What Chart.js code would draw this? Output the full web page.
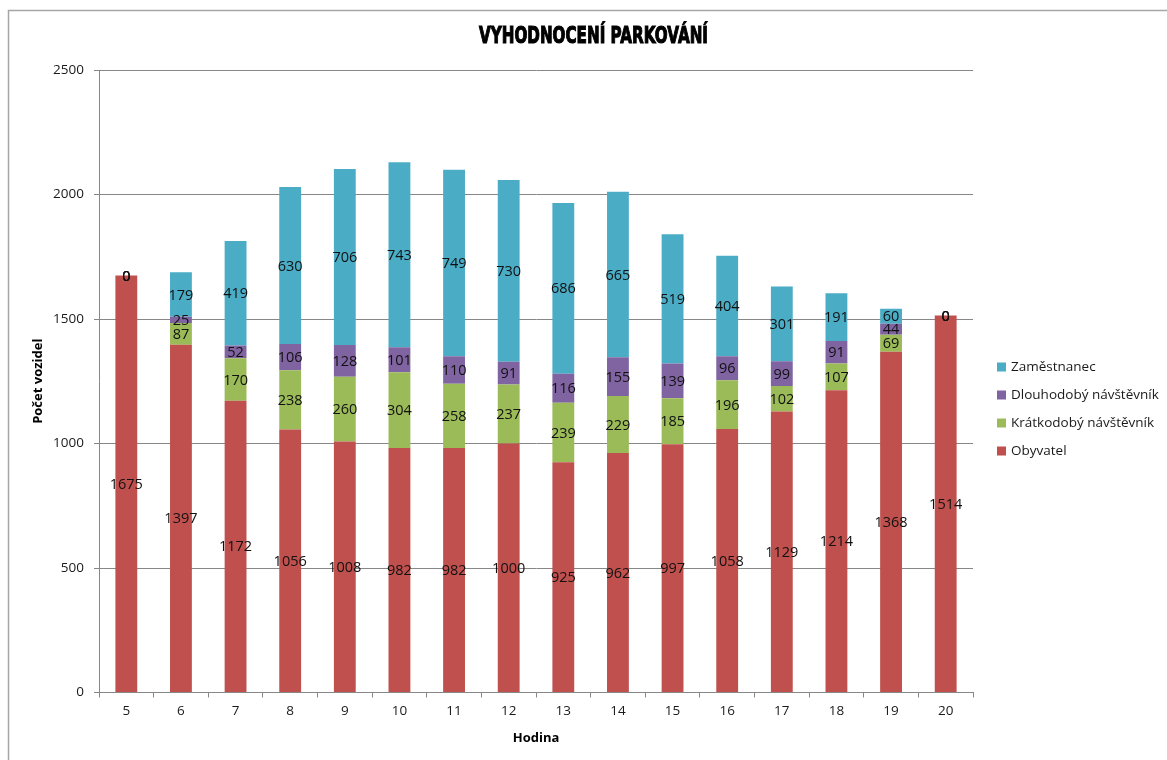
<!DOCTYPE html>
<html>
<head>
<meta charset="utf-8">
<script src="https://cdn.jsdelivr.net/npm/chart.js@4/dist/chart.umd.min.js"></script>
<style>
  html, body { margin: 0; padding: 0; background: #fff; }
  #wrap { position: relative; width: 1167px; height: 760px; }
</style>
</head>
<body>
<div id="wrap"><canvas id="c" width="1167" height="760"></canvas></div>
<script>
// Hour of the day
const hours = ['5', '6', '7', '8', '9', '10', '11', '12', '13', '14', '15', '16', '17', '18', '19', '20'];

// Parked vehicles per group
const obyvatel     = [1675, 1397, 1172, 1056, 1008, 982, 982, 1000, 925, 962, 997, 1058, 1129, 1214, 1368, 1514];
const kratkodoby   = [0, 87, 170, 238, 260, 304, 258, 237, 239, 229, 185, 196, 102, 107, 69, 0];
const dlouhodoby   = [0, 25, 52, 106, 128, 101, 110, 91, 116, 155, 139, 96, 99, 91, 44, 0];
const zamestnanec  = [0, 179, 419, 630, 706, 743, 749, 730, 686, 665, 519, 404, 301, 191, 60, 0];

// Y axis ticks
const yTicks = [0, 500, 1000, 1500, 2000, 2500];

const seriesNames = ['Obyvatel', 'Krátkodobý návštěvník', 'Dlouhodobý návštěvník', 'Zaměstnanec'];
const seriesColors = ['#C0504D', '#9BBB59', '#8064A2', '#4BACC6'];
const seriesData = [obyvatel, kratkodoby, dlouhodoby, zamestnanec];

const FONT = "'Open Sans', 'Liberation Sans', sans-serif";
const GRID = '#878787';

// Outer frame, heading, segment values and legend
const decor = {
  id: 'decor',
  beforeDraw(chart) {
    const ctx = chart.ctx;
    ctx.save();
    ctx.fillStyle = '#fff';
    ctx.fillRect(0, 0, chart.width, chart.height);
    ctx.strokeStyle = '#a6a6a6';
    ctx.lineWidth = 1.5;
    ctx.beginPath();
    ctx.moveTo(8.5, chart.height + 5);
    ctx.lineTo(8.5, 10.5);
    ctx.lineTo(chart.width + 5, 10.5);
    ctx.stroke();

    // heading: heavy, condensed capitals
    const title = 'VYHODNOCENÍ PARKOVÁNÍ';
    ctx.font = "bold 23px 'DejaVu Sans', sans-serif";
    const w = ctx.measureText(title).width;
    const targetW = 229;
    ctx.translate(593.5, 43);
    ctx.scale(targetW / w, 1);
    ctx.textAlign = 'center';
    ctx.textBaseline = 'alphabetic';
    ctx.fillStyle = '#000';
    ctx.strokeStyle = '#000';
    ctx.lineWidth = 1.2;
    ctx.fillText(title, 0, 0);
    ctx.strokeText(title, 0, 0);
    ctx.restore();
  },
  afterDatasetsDraw(chart) {
    const ctx = chart.ctx;
    ctx.save();
    ctx.font = '14.5px ' + FONT;
    ctx.fillStyle = '#111';
    ctx.textAlign = 'center';
    ctx.textBaseline = 'middle';
    chart.data.datasets.forEach((ds, i) => {
      const meta = chart.getDatasetMeta(i);
      meta.data.forEach((el, j) => {
        const v = ds.data[j];
        const yc = (el.y + el.base) / 2;
        ctx.fillText(String(v), el.x, yc + 1);
      });
    });
    ctx.restore();
  },
  afterDraw(chart) {
    const ctx = chart.ctx;
    ctx.save();
    ctx.font = '13.5px ' + FONT;
    ctx.textAlign = 'left';
    ctx.textBaseline = 'middle';
    const ys = [367, 395, 423, 451];
    for (let k = 0; k < 4; k++) {
      const idx = 3 - k;
      ctx.fillStyle = seriesColors[idx];
      ctx.fillRect(997, ys[k] - 4.5, 9, 9);
      ctx.fillStyle = '#1a1a1a';
      ctx.fillText(seriesNames[idx], 1011, ys[k]);
    }
    ctx.restore();
  }
};

new Chart(document.getElementById('c'), {
  type: 'bar',
  data: {
    labels: hours,
    datasets: seriesData.map((d, i) => ({
      label: seriesNames[i],
      data: d,
      backgroundColor: seriesColors[i],
      borderWidth: 0,
      categoryPercentage: 0.8,
      barPercentage: 0.5
    }))
  },
  options: {
    responsive: false,
    animation: false,
    devicePixelRatio: 1,
    layout: { padding: { left: 8, top: 70, right: 194, bottom: 7 } },
    plugins: {
      legend: { display: false },
      title: { display: false },
      tooltip: { enabled: false }
    },
    scales: {
      x: {
        stacked: true,
        afterFit(s) { s.height = 60.5; },
        grid: { display: true, drawOnChartArea: false, drawTicks: true, tickLength: 5, color: GRID, offset: true },
        border: { display: true, color: GRID, width: 1 },
        ticks: { color: '#1a1a1a', font: { family: FONT, size: 13.5 }, padding: 6, maxRotation: 0 },
        title: { display: true, text: 'Hodina', color: '#000', font: { family: FONT, size: 13, weight: 'bold' }, padding: { top: 0, bottom: 7 } }
      },
      y: {
        stacked: true,
        min: 0,
        max: 2500,
        afterFit(s) { s.width = 91; },
        afterBuildTicks(s) { s.ticks = yTicks.map(v => ({ value: v })); },
        grid: { color: GRID, drawTicks: true, tickLength: 5 },
        border: { display: true, color: GRID, width: 1 },
        ticks: { color: '#1a1a1a', font: { family: FONT, size: 13.5 }, padding: 10, callback: v => String(v) },
        title: { display: true, text: 'Počet vozidel', color: '#000', font: { family: FONT, size: 13, weight: 'bold' }, padding: { top: 22, bottom: 0 } }
      }
    }
  },
  plugins: [decor]
});
</script>
</body>
</html>
